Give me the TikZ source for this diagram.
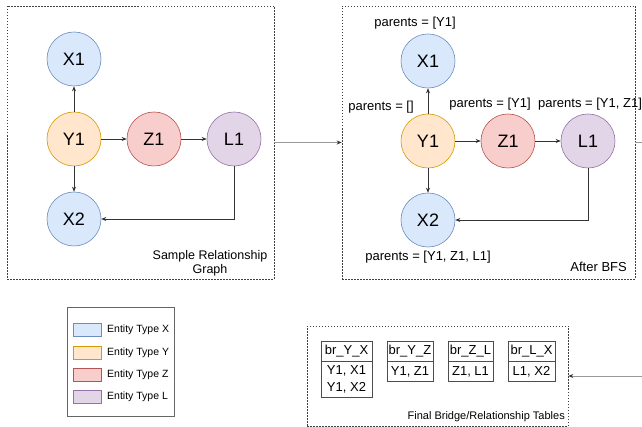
\documentclass[tikz,border=0pt]{standalone}
\usepackage{fontspec}
\setmainfont{Liberation Sans}
\usetikzlibrary{arrows.meta}
\definecolor{xfill}{HTML}{DAE8FC}\definecolor{xline}{HTML}{6C8EBF}
\definecolor{yfill}{HTML}{FFE6CC}\definecolor{yline}{HTML}{D79B00}
\definecolor{zfill}{HTML}{F8CECC}\definecolor{zline}{HTML}{B85450}
\definecolor{lfill}{HTML}{E1D5E7}\definecolor{lline}{HTML}{9673A6}
\tikzset{
  ent/.style={circle, draw, line width=0.6pt, minimum size=54pt, inner sep=0pt, font=\fontsize{18}{20}\selectfont},
  ex/.style={ent, fill=xfill, draw=xline},
  ey/.style={ent, fill=yfill, draw=yline},
  ez/.style={ent, fill=zfill, draw=zline},
  el/.style={ent, fill=lfill, draw=lline},
  conn/.style={draw=black!80, line width=0.6pt, -{Stealth[length=5pt,width=4pt]}},
  flow/.style={draw=gray!80, line width=1pt},
  flowarrow/.style={flow, -{Stealth[length=5pt,width=4pt,color=black!80]}},
  frame/.style={draw=black!75, dash pattern=on 1.5pt off 1.5pt, line width=0.6pt, inner sep=0pt},
  lbl/.style={font=\fontsize{13}{15}\selectfont, inner sep=0pt},
  captxt/.style={font=\fontsize{12.5}{14}\selectfont, inner sep=0pt, align=center},
  tblhead/.style={draw=black!70, line width=0.6pt, minimum height=20pt, inner sep=0pt, font=\fontsize{13}{15}\selectfont},
  tblbody/.style={draw=black!70, line width=0.6pt, inner sep=0pt, align=center, font=\fontsize{13}{17}\selectfont},
  swatch/.style={line width=0.6pt, minimum width=28pt, minimum height=13pt, inner sep=0pt},
  legtext/.style={font=\fontsize{10.5}{12}\selectfont, inner sep=0pt, anchor=west}
}
\begin{document}
\begin{tikzpicture}[x=1pt,y=-1pt]
\useasboundingbox (0,0) rectangle (642,427);
\clip (0,0) rectangle (642,427);
\fill[white] (0,0) rectangle (642,427);

% frames
\node[frame, minimum width=267pt, minimum height=273pt] (b1) at (140.5,142.5) {};
\node[frame, minimum width=293pt, minimum height=273pt] (b2) at (488.5,142.5) {};
\node[frame, minimum width=261pt, minimum height=100pt] (b3) at (437.5,376) {};
\node[draw=black!60, line width=0.6pt, minimum width=107pt, minimum height=109pt, inner sep=0pt] (leg) at (120.5,361.5) {};

% graph 1
\node[ex] (X1a) at (74,59) {X1};
\node[ey] (Y1a) at (74,139) {Y1};
\node[ez] (Z1a) at (154,139) {Z1};
\node[el] (L1a) at (234,139) {L1};
\node[ex] (X2a) at (74,219) {X2};
\draw[conn] (Y1a) -- (X1a);
\draw[conn] (Y1a) -- (X2a);
\draw[conn] (Y1a) -- (Z1a);
\draw[conn] (Z1a) -- (L1a);
\draw[conn] (L1a.south) |- (X2a.east);
\node[captxt] (cap1) at (210,263) {Sample Relationship\\Graph};

% graph 2
\node[ex] (X1b) at (428,61) {X1};
\node[ey] (Y1b) at (428,141) {Y1};
\node[ez] (Z1b) at (508,141) {Z1};
\node[el] (L1b) at (588,141) {L1};
\node[ex] (X2b) at (428,220) {X2};
\draw[conn] (Y1b) -- (X1b);
\draw[conn] (Y1b) -- (X2b);
\draw[conn] (Y1b) -- (Z1b);
\draw[conn] (Z1b) -- (L1b);
\draw[conn] (L1b.south) |- (X2b.east);
\node[lbl] (pX1) at (415,23) {parents = [Y1]};
\node[lbl] (pY1) at (381,107) {parents = []};
\node[lbl] (pZ1) at (490,104) {parents = [Y1]};
\node[lbl, anchor=west] (pL1) at (538,104) {parents = [Y1, Z1]};
\node[lbl] (pX2) at (428,257) {parents = [Y1, Z1, L1]};
\node[lbl, anchor=east] (cap2) at (627,267) {After BFS};

% flow connectors
\coordinate (outR) at (642,142.5);
\coordinate (inR) at (642,376);
\draw[flowarrow] (b1.east) -- (b2.west);
\draw[flow] (b2.east) -- (outR);
\draw[flowarrow] (inR) -- (b3.east);

% tables
\node[tblhead, minimum width=51pt] (t1h) at (346.5,351) {br\_Y\_X};
\node[tblbody, minimum width=51pt, minimum height=36pt, anchor=north] (t1b) at (t1h.south) {Y1, X1\\Y1, X2};
\node[tblhead, minimum width=46pt] (t2h) at (410,351) {br\_Y\_Z};
\node[tblbody, minimum width=46pt, minimum height=20pt, anchor=north] (t2b) at (t2h.south) {Y1, Z1};
\node[tblhead, minimum width=45pt] (t3h) at (470.5,351) {br\_Z\_L};
\node[tblbody, minimum width=45pt, minimum height=20pt, anchor=north] (t3b) at (t3h.south) {Z1, L1};
\node[tblhead, minimum width=47pt] (t4h) at (531.5,351) {br\_L\_X};
\node[tblbody, minimum width=47pt, minimum height=20pt, anchor=north] (t4b) at (t4h.south) {L1, X2};
\node[font=\fontsize{11}{13}\selectfont, inner sep=0pt, anchor=east] (cap3) at (565,417) {Final Bridge/Relationship Tables};

% legend
\node[swatch, fill=xfill, draw=xline] (sx) at (87,329.5) {};
\node[swatch, fill=yfill, draw=yline] (sy) at (87,352.5) {};
\node[swatch, fill=zfill, draw=zline] (sz) at (87,374.5) {};
\node[swatch, fill=lfill, draw=lline] (sl) at (87,396.5) {};
\node[legtext] (lx) at (107,329.5) {Entity Type X};
\node[legtext] (ly) at (107,352.5) {Entity Type Y};
\node[legtext] (lz) at (107,374.5) {Entity Type Z};
\node[legtext] (ll) at (107,396.5) {Entity Type L};
\end{tikzpicture}
\end{document}
